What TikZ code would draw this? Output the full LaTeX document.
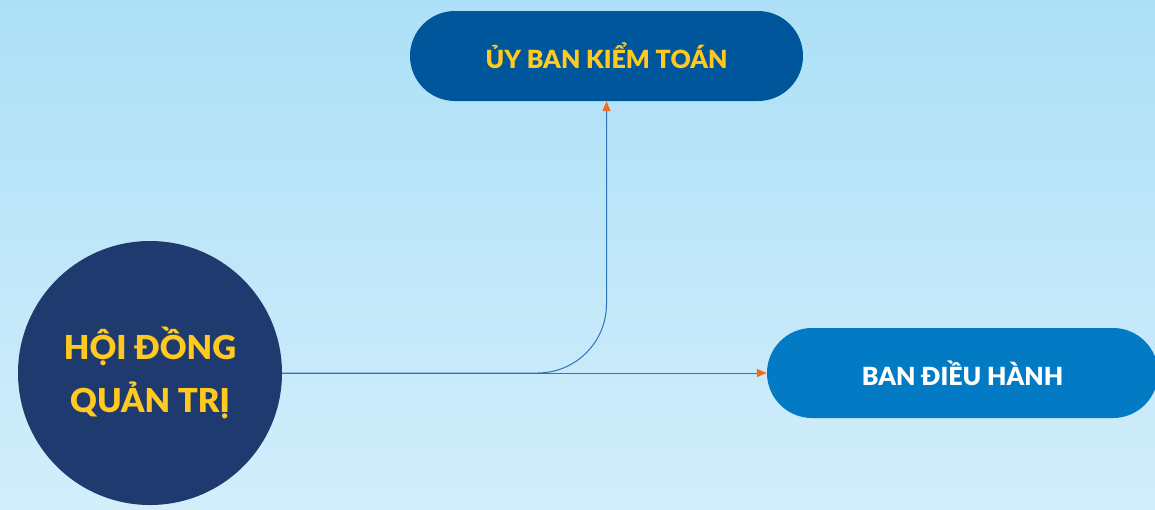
\documentclass[tikz,border=0pt]{standalone}
\usepackage{fontspec}
\setmainfont{Lato}[BoldFont={Lato Black}]
\usetikzlibrary{arrows.meta}
\definecolor{bgtop}{RGB}{173,224,247}
\definecolor{bgbot}{RGB}{210,238,251}
\definecolor{navy}{RGB}{31,58,110}
\definecolor{deepblue}{RGB}{0,86,154}
\definecolor{midblue}{RGB}{2,123,196}
\definecolor{gold}{RGB}{255,201,31}
\definecolor{linkblue}{RGB}{46,117,182}
\definecolor{tiporange}{RGB}{242,107,33}
\tikzset{
  pill/.style={rounded corners=45pt, minimum width=393pt, minimum height=90pt,
    inner sep=0pt, font=\fontsize{25}{30}\selectfont\bfseries},
  board/.style={circle, fill=navy, minimum size=264pt, inner sep=0pt, align=center,
    text=gold, font=\fontsize{33}{53}\selectfont\bfseries},
  conn/.style={draw=linkblue, line width=1pt,
    -{Triangle[length=10pt, width=8pt, color=tiporange]}}
}
\begin{document}
\begin{tikzpicture}[x=1pt, y=-1pt]
  % background
  \shade[top color=bgtop, bottom color=bgbot] (0,0) rectangle (1155,509);
  \useasboundingbox (0,0) rectangle (1155,509);

  % nodes
  \node[board] (hdqt) at (150,373) {HỘI ĐỒNG\\QUẢN TRỊ};
  \node[pill, fill=deepblue, text=gold] (ubkt) at (606.5,56) {ỦY BAN KIỂM TOÁN};
  \node[pill, fill=midblue, text=white, minimum width=391pt] (bdh) at (962.5,373) {BAN ĐIỀU HÀNH};

  % connectors
  \draw[conn] (hdqt.east) -- (bdh.west);
  \draw[conn, rounded corners=69pt] (hdqt.east) -| (ubkt.south);
\end{tikzpicture}
\end{document}
